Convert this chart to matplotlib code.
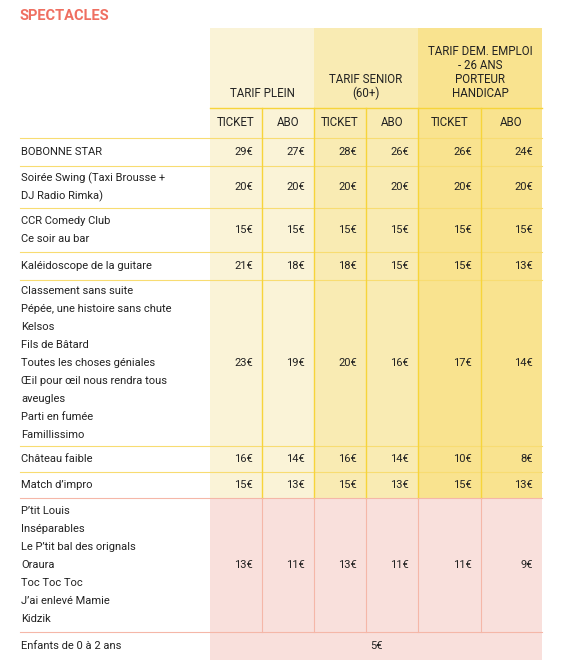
import matplotlib.pyplot as plt
from matplotlib.patches import Rectangle

# données du tableau
groups = ["TARIF PLEIN", "TARIF SENIOR\n(60+)", "TARIF DEM. EMPLOI\n- 26 ANS\nPORTEUR\nHANDICAP"]
sub_cols = ["TICKET", "ABO", "TICKET", "ABO", "TICKET", "ABO"]
row_labels = [
    ["BOBONNE STAR"],
    ["Soirée Swing (Taxi Brousse +", "DJ Radio Rimka)"],
    ["CCR Comedy Club", "Ce soir au bar"],
    ["Kaléidoscope de la guitare"],
    ["Classement sans suite", "Pépée, une histoire sans chute", "Kelsos", "Fils de Bâtard",
     "Toutes les choses géniales", "Œil pour œil nous rendra tous", "aveugles", "Parti en fumée",
     "Famillissimo"],
    ["Château faible"],
    ["Match d’impro"],
    ["P’tit Louis", "Inséparables", "Le P’tit bal des orignals", "Oraura", "Toc Toc Toc",
     "J’ai enlevé Mamie", "Kidzik"],
]
prices = [
    [29, 27, 28, 26, 26, 24],
    [20, 20, 20, 20, 20, 20],
    [15, 15, 15, 15, 15, 15],
    [21, 18, 18, 15, 15, 13],
    [23, 19, 20, 16, 17, 14],
    [16, 14, 16, 14, 10, 8],
    [15, 13, 15, 13, 15, 13],
    [13, 11, 13, 11, 11, 9],
]
kids_label = "Enfants de 0 à 2 ans"
kids_price = 5

plt.rcParams['font.family'] = ['Roboto', 'DejaVu Sans']

W, H = 565, 667
fig = plt.figure(figsize=(W / 100, H / 100), dpi=100)
ax = fig.add_axes([0, 0, 1, 1])
ax.set_xlim(0, W)
ax.set_ylim(H, 0)
ax.axis('off')

xs = [210, 262, 314, 366, 418, 481, 542]
col_bg = ["#faf3d7", "#faf3d7", "#f9ebb3", "#f9ebb3", "#f9e38f", "#f9e38f"]
pink = "#f9e0dc"
yline = "#f7d43a"
yrow = "#f8dc72"
pline = "#f5b7a8"
txt = "#222222"
fs = 8

top, gh_bot, sh_bot = 28, 108, 138
row_h = [28, 42, 44, 28, 166, 26, 26, 134]
ys = [sh_bot]
for h in row_h:
    ys.append(ys[-1] + h)
kids_bot = ys[-1] + 28

ax.text(20, 16, "SPECTACLES", color="#ef6f61", fontsize=10.5, fontweight='bold', va='center')

# fonds
n_yellow = 7
for i in range(6):
    ax.add_patch(Rectangle((xs[i], top), xs[i + 1] - xs[i], ys[n_yellow] - top, color=col_bg[i], lw=0))
ax.add_patch(Rectangle((xs[0], ys[n_yellow]), xs[-1] - xs[0], kids_bot - ys[n_yellow], color=pink, lw=0))

# en-têtes
for g, name in enumerate(groups):
    x0, x1 = xs[2 * g], xs[2 * g + 2]
    ax.text((x0 + x1) / 2, gh_bot - 8, name, ha='center', va='bottom', fontsize=fs + 0.3,
            color=txt, linespacing=1.1)
for i, s in enumerate(sub_cols):
    ax.text((xs[i] + xs[i + 1]) / 2, (gh_bot + sh_bot) / 2, s, ha='center', va='center',
            fontsize=fs + 0.3, color=txt)

# lignes
ax.plot([xs[0], xs[-1]], [gh_bot, gh_bot], color=yline, lw=1)
for k in range(n_yellow + 1):
    ax.plot([20, xs[-1]], [ys[k], ys[k]], color=yrow if k < n_yellow else pline, lw=0.8)
ax.plot([20, xs[-1]], [ys[-1], ys[-1]], color=pline, lw=0.8)
for i in range(1, 6):
    ax.plot([xs[i], xs[i]], [gh_bot, ys[n_yellow]], color=yline, lw=1)
    ax.plot([xs[i], xs[i]], [ys[n_yellow], ys[-1]], color=pline, lw=0.8)

# lignes de données
for r, labels in enumerate(row_labels):
    y0, y1 = ys[r], ys[r + 1]
    n = len(labels)
    start = (y0 + y1) / 2 - (n - 1) * 18 / 2
    for j, lab in enumerate(labels):
        ax.text(21, start + j * 18, lab, va='center', fontsize=fs, color=txt)
    for i, p in enumerate(prices[r]):
        ax.text(xs[i + 1] - 9, (y0 + y1) / 2, f"{p}€", ha='right', va='center',
                fontsize=fs, color=txt)

ax.text(21, (ys[-1] + kids_bot) / 2, kids_label, va='center', fontsize=fs, color=txt)
ax.text((xs[0] + xs[-1]) / 2, (ys[-1] + kids_bot) / 2, f"{kids_price}€", ha='center',
        va='center', fontsize=fs, color=txt)

fig.savefig("out.png", dpi=100)
